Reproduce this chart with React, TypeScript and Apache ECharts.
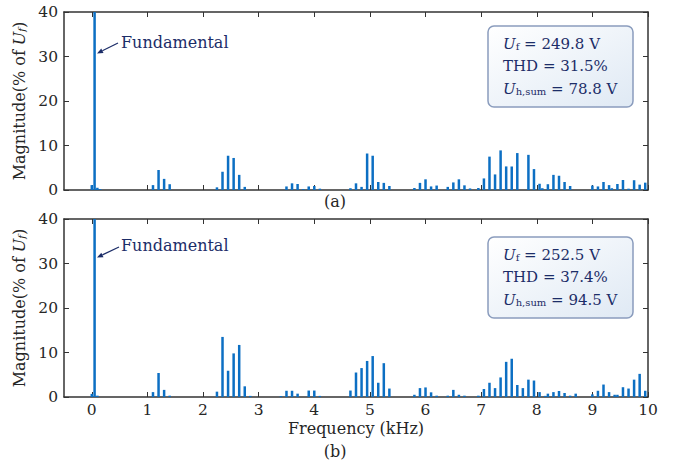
import React, { useEffect, useRef } from "react";
import * as echarts from "echarts";

// Frequencies (kHz) and magnitudes (% of Uf), subplot (a)
const freqA = [0, 0.05, 0.1, 0.15, 1.1, 1.2, 1.3, 1.4, 2.25, 2.35, 2.45, 2.55, 2.65, 2.75, 3.5, 3.6, 3.7, 3.8, 3.9, 4.0, 4.1, 4.65, 4.75, 4.85, 4.95, 5.05, 5.15, 5.25, 5.35, 5.8, 5.9, 6.0, 6.1, 6.2, 6.4, 6.5, 6.6, 6.7, 6.8, 6.95, 7.05, 7.15, 7.25, 7.35, 7.45, 7.55, 7.65, 7.85, 7.95, 8.05, 8.1, 8.2, 8.3, 8.4, 8.5, 8.6, 9.0, 9.1, 9.2, 9.3, 9.35, 9.45, 9.55, 9.65, 9.75, 9.85, 9.95];
const magA = [1.1, 100, 0.5, 0.2, 1.1, 4.5, 2.5, 1.3, 0.6, 4.1, 7.7, 7.2, 3.4, 0.7, 0.8, 1.5, 1.35, 0.2, 0.8, 0.9, 0.3, 0.4, 1.5, 0.7, 8.2, 7.7, 1.8, 1.6, 0.9, 0.45, 1.6, 2.4, 0.8, 1.0, 0.7, 1.7, 2.4, 1.05, 0.35, 0.45, 2.6, 7.5, 3.5, 8.9, 5.3, 5.3, 8.3, 7.9, 4.7, 1.4, 0.4, 1.3, 3.4, 3.2, 1.8, 0.9, 1.0, 0.8, 1.8, 1.1, 0.4, 1.35, 2.25, 0.3, 2.2, 1.2, 1.65];

// subplot (b)
const freqB = [0, 0.05, 0.1, 1.1, 1.2, 1.3, 1.4, 2.25, 2.35, 2.45, 2.55, 2.65, 2.75, 2.85, 3.4, 3.5, 3.6, 3.7, 3.9, 4.0, 4.1, 4.65, 4.75, 4.85, 4.95, 5.05, 5.15, 5.25, 5.35, 5.8, 5.9, 6.0, 6.1, 6.2, 6.4, 6.5, 6.6, 6.7, 6.95, 7.05, 7.15, 7.25, 7.35, 7.45, 7.55, 7.65, 7.75, 7.85, 7.95, 8.05, 8.15, 8.2, 8.3, 8.4, 8.5, 8.6, 8.7, 9.0, 9.1, 9.2, 9.3, 9.4, 9.45, 9.55, 9.65, 9.75, 9.85, 9.95];
const magB = [0.7, 100, 0.3, 1.1, 5.4, 1.6, 0.3, 1.2, 13.5, 5.9, 9.8, 11.7, 2.4, 0.25, 0.2, 1.4, 1.4, 0.75, 1.45, 1.45, 0.25, 1.45, 5.5, 6.5, 8.1, 9.2, 3.2, 7.6, 1.9, 0.5, 2.0, 2.15, 1.05, 0.3, 0.3, 1.6, 0.5, 0.3, 0.3, 1.8, 3.2, 2.0, 4.4, 7.9, 8.6, 2.7, 2.0, 3.9, 3.7, 1.1, 0.25, 0.75, 1.1, 1.35, 0.9, 0.3, 0.75, 0.6, 1.4, 2.8, 1.1, 0.5, 0.5, 2.2, 1.9, 3.9, 5.2, 1.4];

const freqTicks = [0, 1, 2, 3, 4, 5, 6, 7, 8, 9, 10];
const infoA = ["249.8 V", "31.5%", "78.8 V"];
const infoB = ["252.5 V", "37.4%", "94.5 V"];

const FONT = "DejaVu Serif";
const NAVY = "#1c2d68";
const AXIS = "#333333";
const TXT = "#262626";
const BAR = "#0c6fc3";

function xAxes(gridIndex: number, showLabels: boolean) {
  const base = {
    type: "value",
    gridIndex,
    min: -0.5,
    max: 10,
    splitLine: { show: false },
    axisLine: { show: true, onZero: false, lineStyle: { color: AXIS, width: 1.5 } },
    axisTick: { show: true, inside: true, length: 5, customValues: freqTicks, lineStyle: { color: AXIS, width: 1 } },
  };
  return [
    {
      ...base,
      position: "bottom",
      axisLabel: showLabels
        ? { show: true, customValues: freqTicks, fontFamily: FONT, fontSize: 15.5, color: TXT, margin: 5 }
        : { show: false },
      name: showLabels ? "Frequency (kHz)" : "",
      nameLocation: "middle",
      nameGap: 23,
      nameTextStyle: { fontFamily: FONT, fontSize: 16, color: TXT },
    },
    { ...base, position: "top", axisLabel: { show: false } },
  ];
}

function yAxes(gridIndex: number) {
  const base = {
    type: "value",
    gridIndex,
    min: 0,
    max: 40,
    interval: 10,
    splitLine: { show: false },
    axisLine: { show: true, onZero: false, lineStyle: { color: AXIS, width: 1.5 } },
    axisTick: { show: true, inside: true, length: 5, lineStyle: { color: AXIS, width: 1 } },
  };
  return [
    {
      ...base,
      position: "left",
      axisLabel: { show: true, fontFamily: FONT, fontSize: 15.5, color: TXT, margin: 6 },
      name: "{n|Magnitude(% of }{i|U}{s|f}{n|)}",
      nameLocation: "middle",
      nameRotate: 90,
      nameGap: 37,
      nameTextStyle: {
        fontFamily: FONT,
        fontSize: 16,
        color: TXT,
        rich: {
          n: { fontFamily: FONT, fontSize: 16, color: TXT },
          i: { fontFamily: FONT, fontSize: 16, fontStyle: "italic", color: TXT },
          s: { fontFamily: FONT, fontSize: 10, fontStyle: "italic", color: TXT, padding: [5, 0, 0, 0] },
        },
      },
    },
    { ...base, position: "right", axisLabel: { show: false } },
  ];
}

function infoBox(top: number, vals: string[]) {
  const rich = {
    i: { fontFamily: FONT, fontSize: 15, fontStyle: "italic", fill: NAVY },
    n: { fontFamily: FONT, fontSize: 15, fill: NAVY },
    s: { fontFamily: FONT, fontSize: 10, fill: NAVY, padding: [5, 0, 0, 0] },
  };
  const lines = [
    `{i|U}{s|f}{n| = ${vals[0]}}`,
    `{n|THD = ${vals[1]}}`,
    `{i|U}{s|h,sum}{n| = ${vals[2]}}`,
  ];
  return [
    {
      type: "rect",
      shape: { x: 488, y: top, width: 145, height: 81, r: 6 },
      style: {
        fill: new echarts.graphic.LinearGradient(0, 0, 1, 1, [
          { offset: 0, color: "#ffffff" },
          { offset: 1, color: "#dfe9f4" },
        ]),
        stroke: "#8a9cbd",
        lineWidth: 1.5,
      },
      z: 10,
    },
    ...lines.map((t, k) => ({
      type: "text",
      x: 503,
      y: top + 17.5 + k * 22.7,
      style: { text: t, rich, verticalAlign: "middle", align: "left" },
      z: 11,
    })),
  ];
}

function fundamental(textY: number, arrowFrom: number[], arrowTo: number[]) {
  const dx = arrowTo[0] - arrowFrom[0];
  const dy = arrowTo[1] - arrowFrom[1];
  const len = Math.sqrt(dx * dx + dy * dy);
  const ux = dx / len;
  const uy = dy / len;
  const hl = 6;
  const hw = 2.5;
  const bx = arrowTo[0] - ux * hl;
  const by = arrowTo[1] - uy * hl;
  return [
    {
      type: "text",
      x: 121,
      y: textY,
      style: { text: "Fundamental", fontFamily: FONT, fontSize: 16, fill: NAVY, verticalAlign: "middle" },
      z: 11,
    },
    {
      type: "line",
      shape: { x1: arrowFrom[0], y1: arrowFrom[1], x2: bx, y2: by },
      style: { stroke: NAVY, lineWidth: 1.2 },
      z: 11,
    },
    {
      type: "polygon",
      shape: {
        points: [
          [arrowTo[0], arrowTo[1]],
          [bx - uy * hw, by + ux * hw],
          [bx + uy * hw, by - ux * hw],
        ],
      },
      style: { fill: NAVY },
      z: 11,
    },
  ];
}

export default function App() {
  const ref = useRef<HTMLDivElement>(null);
  useEffect(() => {
    if (!ref.current) return;
    const chart = echarts.init(ref.current, null, { renderer: "svg" });
    const option = {
      animation: false,
      backgroundColor: "#ffffff",
      grid: [
        { left: 64, top: 12, width: 584, height: 178, containLabel: false },
        { left: 64, top: 219, width: 584, height: 178, containLabel: false },
      ],
      xAxis: [...xAxes(0, false), ...xAxes(1, true)],
      yAxis: [...yAxes(0), ...yAxes(1)],
      series: [
        {
          type: "bar",
          xAxisIndex: 0,
          yAxisIndex: 0,
          barWidth: 2.5,
          clip: true,
          itemStyle: { color: BAR },
          data: freqA.map((f, i) => [f, magA[i]]),
        },
        {
          type: "bar",
          xAxisIndex: 2,
          yAxisIndex: 2,
          barWidth: 2.5,
          clip: true,
          itemStyle: { color: BAR },
          data: freqB.map((f, i) => [f, magB[i]]),
        },
      ],
      graphic: [
        ...infoBox(26, infoA),
        ...infoBox(237, infoB),
        ...fundamental(42, [118, 43], [97, 53.5]),
        ...fundamental(245, [119, 247], [97, 257.5]),
        {
          type: "text",
          x: 335,
          y: 201,
          style: { text: "(a)", fontFamily: FONT, fontSize: 16, fill: TXT, align: "center", verticalAlign: "middle" },
        },
        {
          type: "text",
          x: 335,
          y: 451,
          style: { text: "(b)", fontFamily: FONT, fontSize: 16, fill: TXT, align: "center", verticalAlign: "middle" },
        },
      ],
    };
    chart.setOption(option as any);
    return () => chart.dispose();
  }, []);
  return <div ref={ref} style={{ position: "fixed", left: 0, top: 0, width: 676, height: 465 }} />;
}
